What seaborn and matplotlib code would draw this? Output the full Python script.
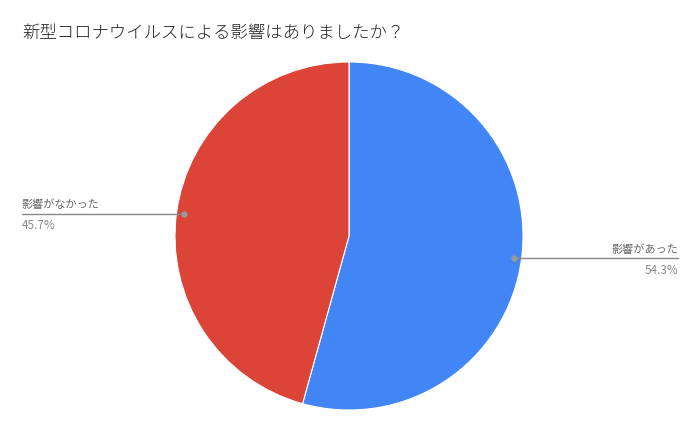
import numpy as np
import matplotlib
matplotlib.use("Agg")
import matplotlib.pyplot as plt
import seaborn as sns

title = "新型コロナウイルスによる影響はありましたか？"
labels = ["影響があった", "影響がなかった"]
shares = [54.3, 45.7]
colors = ["#4285F4", "#DB4437"]

sns.set_style("white")
plt.rcParams["font.family"] = ["Noto Sans CJK JP", "DejaVu Sans"]

W, H = 700, 432
cx, cy, r = 349, 196, 174  # pie centre (px from bottom-left) and radius

fig = plt.figure(figsize=(W / 100, H / 100), dpi=100)
ax = fig.add_axes([0, 0, 1, 1])

wedges, _ = ax.pie(shares, colors=colors, startangle=90, counterclock=False,
                   radius=1, center=(0, 0), frame=True,
                   wedgeprops=dict(linewidth=0.8, edgecolor="white"))
ax.set_xlim(-cx / r, (W - cx) / r)
ax.set_ylim(-cy / r, (H - cy) / r)
ax.set_aspect("auto")
ax.axis("off")

edge_l, edge_r = (22 - cx) / r, (678 - cx) / r
for w, lab, val in zip(wedges, labels, shares):
    mid = np.deg2rad((w.theta1 + w.theta2) / 2)
    px, py = 0.955 * np.cos(mid), 0.955 * np.sin(mid)
    end = edge_r if px > 0 else edge_l
    ha = "right" if px > 0 else "left"
    ax.plot([px, end], [py, py], color="#888888", lw=1, zorder=3)
    ax.plot(px, py, "o", color="#999999", ms=3.5, zorder=4)
    ax.text(end, py + 9 / r, lab, ha=ha, va="center", fontsize=8, color="#666666")
    ax.text(end, py - 12 / r, f"{val}%", ha=ha, va="center", fontsize=8.5, color="#8a8a8a")

fig.text(22 / W, 1 - 33 / H, title, ha="left", va="center", fontsize=12.5,
         color="#222222", fontweight="light")

fig.savefig("out.png", dpi=100, facecolor="white")
